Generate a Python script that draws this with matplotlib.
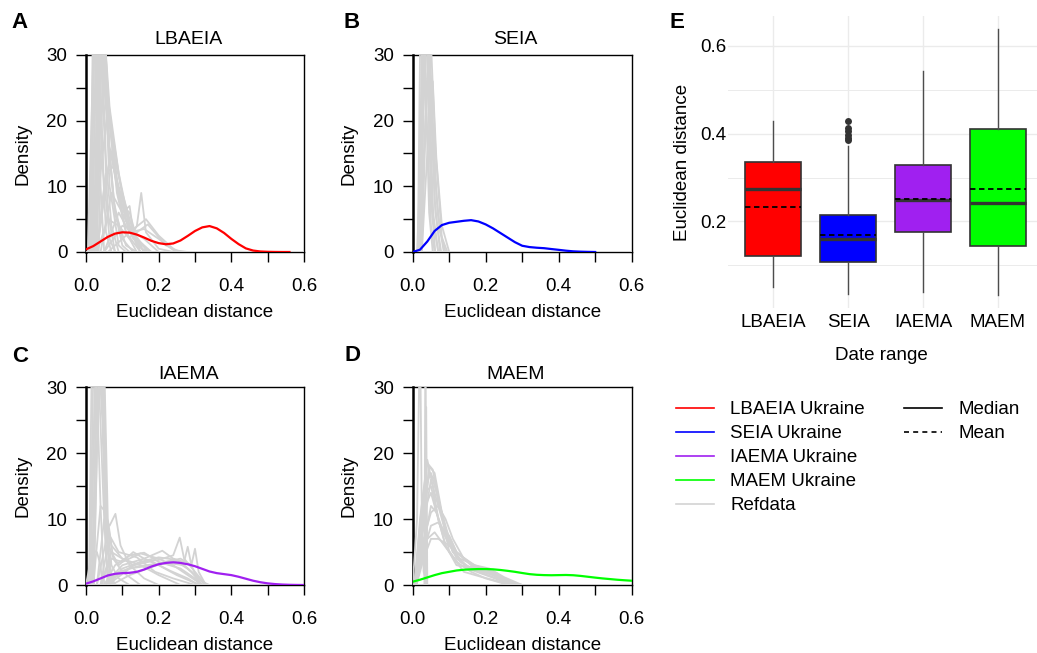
import numpy as np
import matplotlib.pyplot as plt
from matplotlib.lines import Line2D

plt.rcParams['font.family'] = ['Liberation Sans', 'DejaVu Sans']

## Data
x_grid = [0.00, 0.02, 0.04, 0.06, 0.08, 0.10, 0.12, 0.14, 0.16, 0.18, 0.20,
          0.22, 0.24, 0.26, 0.28, 0.30, 0.32, 0.34, 0.36, 0.38, 0.40, 0.42,
          0.44, 0.46, 0.48, 0.50, 0.52, 0.54, 0.56, 0.58, 0.60]

lbaeia_ukr = [0.40, 0.90, 1.60, 2.30, 2.80, 3.00, 2.95, 2.65, 2.20, 1.70, 1.35,
              1.18, 1.30, 1.75, 2.45, 3.20, 3.75, 3.95, 3.60, 2.90, 2.00, 1.20,
              0.55, 0.22, 0.08, 0.03, 0.01, 0.00, 0.00, np.nan, np.nan]
seia_ukr = [0.00, 0.35, 1.60, 3.20, 4.10, 4.45, 4.60, 4.75, 4.85, 4.65, 4.20,
            3.60, 2.90, 2.20, 1.50, 0.95, 0.75, 0.65, 0.58, 0.45, 0.33, 0.20,
            0.10, 0.05, 0.02, 0.00, np.nan, np.nan, np.nan, np.nan, np.nan]
iaema_ukr = [0.20, 0.55, 1.00, 1.45, 1.70, 1.80, 1.85, 2.00, 2.35, 2.80, 3.15,
             3.35, 3.45, 3.35, 3.15, 2.85, 2.45, 2.05, 1.80, 1.65, 1.50, 1.25,
             0.95, 0.65, 0.42, 0.25, 0.14, 0.07, 0.03, 0.01, 0.00]
maem_ukr = [0.50, 0.80, 1.15, 1.50, 1.80, 2.00, 2.20, 2.32, 2.38, 2.42, 2.42,
            2.38, 2.28, 2.15, 2.00, 1.82, 1.65, 1.55, 1.50, 1.48, 1.50, 1.52,
            1.48, 1.38, 1.25, 1.12, 1.00, 0.90, 0.80, 0.72, 0.65]

# reference density curves, (x, density) points per curve
ref_lbaeia = [
    [(0.0, 0), (0.005, 0), (0.015, 20), (0.025, 40), (0.04, 20), (0.055, 3), (0.07, 0), (0.6, 0)],
    [(0.01, 0), (0.02, 25), (0.03, 45), (0.045, 25), (0.06, 6), (0.08, 0)],
    [(0.015, 0), (0.025, 22), (0.035, 38), (0.05, 30), (0.065, 10), (0.09, 1), (0.11, 0)],
    [(0.02, 0), (0.03, 20), (0.04, 36), (0.055, 22), (0.075, 8), (0.1, 2), (0.13, 0)],
    [(0.025, 0), (0.035, 28), (0.045, 40), (0.06, 18), (0.08, 6), (0.11, 1), (0.14, 0)],
    [(0.03, 0), (0.04, 30), (0.05, 34), (0.065, 16), (0.085, 10), (0.11, 3), (0.15, 0)],
    [(0.012, 0), (0.018, 30), (0.022, 45), (0.03, 30), (0.04, 10), (0.05, 0)],
    [(0.015, 0), (0.022, 32), (0.028, 45), (0.036, 32), (0.048, 12), (0.065, 2), (0.08, 0)],
    [(0.018, 0), (0.026, 30), (0.033, 45), (0.042, 34), (0.055, 14), (0.07, 4), (0.09, 0)],
    [(0.022, 0), (0.032, 32), (0.038, 45), (0.048, 36), (0.06, 18), (0.08, 6), (0.1, 1), (0.12, 0)],
    [(0.026, 0), (0.036, 30), (0.042, 45), (0.052, 32), (0.065, 20), (0.085, 9), (0.11, 3), (0.14, 0)],
    [(0.03, 0), (0.04, 28), (0.046, 40), (0.055, 30), (0.065, 22), (0.09, 12), (0.12, 4), (0.15, 0)],
    [(0.035, 0), (0.045, 25), (0.05, 35), (0.06, 24), (0.08, 14), (0.1, 9), (0.13, 3), (0.17, 0)],
    [(0.03, 0), (0.05, 8), (0.065, 14), (0.077, 16.5), (0.09, 12), (0.11, 5), (0.14, 1), (0.17, 0)],
    [(0.03, 0), (0.05, 10), (0.07, 15), (0.085, 11), (0.1, 8), (0.12, 4), (0.16, 0)],
    [(0.03, 0), (0.055, 12), (0.075, 13), (0.1, 7), (0.12, 6), (0.14, 2), (0.18, 0)],
    [(0.03, 0), (0.06, 5), (0.09, 4), (0.12, 2), (0.14, 4), (0.152, 9), (0.165, 3), (0.2, 0.5), (0.24, 0)],
    [(0.04, 0), (0.07, 9), (0.1, 6), (0.12, 7), (0.13, 3), (0.16, 2), (0.2, 0)],
    [(0.05, 0), (0.09, 6), (0.12, 3), (0.165, 5), (0.2, 2.5), (0.25, 0)],
    [(0.05, 0), (0.1, 4), (0.14, 3), (0.17, 4.2), (0.22, 1), (0.26, 0)],
    [(0.06, 0), (0.12, 3), (0.16, 3.5), (0.2, 2), (0.24, 0.3), (0.28, 0)],
    [(0.02, 0), (0.04, 12), (0.06, 22), (0.08, 12), (0.1, 6), (0.13, 2), (0.18, 0)],
    [(0.02, 0), (0.04, 20), (0.055, 26), (0.07, 18), (0.09, 9), (0.12, 3), (0.16, 0)],
]
ref_seia = [
    [(0.0, 0), (0.012, 0), (0.022, 15), (0.03, 35), (0.04, 18), (0.05, 4), (0.06, 0), (0.6, 0)],
    [(0.015, 0), (0.025, 18), (0.035, 38), (0.045, 20), (0.055, 5), (0.07, 0)],
    [(0.018, 0), (0.03, 22), (0.04, 36), (0.05, 22), (0.06, 8), (0.075, 0)],
    [(0.02, 0), (0.032, 16), (0.045, 33), (0.055, 20), (0.068, 6), (0.085, 0)],
    [(0.025, 0), (0.04, 15), (0.055, 26), (0.065, 14), (0.08, 4), (0.1, 0)],
    [(0.02, 0), (0.035, 20), (0.045, 31), (0.06, 12), (0.075, 3), (0.095, 0)],
    [(0.025, 0), (0.038, 24), (0.05, 32), (0.062, 16), (0.08, 2), (0.09, 0)],
    [(0.014, 0), (0.02, 30), (0.026, 45), (0.034, 28), (0.045, 6), (0.055, 0)],
    [(0.016, 0), (0.024, 28), (0.03, 45), (0.04, 30), (0.05, 8), (0.062, 0)],
    [(0.02, 0), (0.028, 30), (0.036, 45), (0.045, 26), (0.056, 6), (0.07, 0)],
    [(0.022, 0), (0.032, 30), (0.04, 42), (0.05, 24), (0.062, 6), (0.078, 0)],
]
ref_iaema = [
    [(0.0, 0), (0.01, 3), (0.02, 20), (0.03, 40), (0.045, 25), (0.055, 5), (0.065, 0)],
    [(0.012, 0), (0.025, 30), (0.035, 42), (0.05, 20), (0.06, 5), (0.075, 0)],
    [(0.015, 0), (0.03, 28), (0.045, 36), (0.055, 12), (0.07, 3), (0.09, 1), (0.12, 0)],
    [(0.02, 0), (0.035, 30), (0.05, 34), (0.06, 10), (0.075, 4), (0.1, 2), (0.15, 0)],
    [(0.008, 0), (0.015, 30), (0.02, 45), (0.03, 30), (0.04, 12), (0.05, 0)],
    [(0.01, 0), (0.02, 32), (0.027, 45), (0.036, 30), (0.05, 10), (0.06, 0)],
    [(0.018, 0), (0.028, 30), (0.035, 45), (0.045, 30), (0.055, 10), (0.065, 2), (0.08, 0)],
    [(0.022, 0), (0.034, 30), (0.042, 45), (0.05, 30), (0.058, 8), (0.07, 0)],
    [(0.005, 0), (0.012, 4), (0.02, 5.2), (0.03, 5), (0.04, 3), (0.045, 0)],
    [(0.03, 0), (0.05, 10), (0.065, 9), (0.081, 10.8), (0.095, 6), (0.12, 3), (0.16, 1), (0.2, 0)],
    [(0.04, 0), (0.06, 6), (0.09, 3), (0.13, 5), (0.16, 4), (0.2, 3), (0.25, 1.5), (0.3, 0.3), (0.33, 0)],
    [(0.04, 0), (0.07, 4), (0.1, 3.5), (0.15, 4.8), (0.2, 4), (0.24, 3), (0.28, 1.5), (0.32, 0)],
    [(0.05, 0), (0.1, 2), (0.15, 3.5), (0.2, 3.8), (0.24, 4.5), (0.258, 7.2), (0.27, 4), (0.3, 2), (0.33, 0)],
    [(0.05, 0), (0.1, 3), (0.16, 4), (0.21, 5.2), (0.24, 4), (0.27, 3.5), (0.28, 5.8), (0.29, 3), (0.3, 5.5), (0.31, 2), (0.33, 0)],
    [(0.06, 0), (0.12, 2.5), (0.18, 3), (0.24, 3.8), (0.28, 2.5), (0.32, 0.5), (0.34, 0)],
    [(0.03, 0), (0.06, 8), (0.09, 5), (0.14, 4.2), (0.19, 2), (0.24, 1), (0.3, 0)],
    [(0.02, 0), (0.04, 12), (0.055, 11), (0.07, 6), (0.1, 4), (0.15, 3), (0.2, 1.5), (0.26, 0)],
    [(0.05, 0), (0.09, 2), (0.14, 2.8), (0.19, 3.2), (0.23, 3.3), (0.27, 3), (0.31, 1), (0.33, 0)],
    [(0.06, 0), (0.1, 2.5), (0.15, 3.5), (0.2, 4.2), (0.25, 3.8), (0.29, 2), (0.32, 0)],
    [(0.05, 0), (0.08, 3), (0.12, 4.5), (0.16, 4.9), (0.2, 3.5), (0.26, 2.5), (0.3, 1), (0.32, 0)],
    [(0.07, 0), (0.12, 1.5), (0.17, 2.5), (0.22, 3.5), (0.26, 4), (0.29, 3), (0.31, 0.5), (0.32, 0)],
    [(0.04, 0), (0.07, 5), (0.1, 4), (0.13, 3), (0.18, 3.6), (0.23, 2.2), (0.28, 1), (0.31, 0)],
]
ref_maem = [
    [(0.0, 0), (0.012, 10), (0.02, 40), (0.025, 10), (0.03, 2), (0.04, 0)],
    [(0.032, 0), (0.035, 40), (0.038, 0)],
    [(0.035, 0), (0.037, 27), (0.04, 0)],
    [(0.005, 0), (0.02, 10), (0.04, 19), (0.055, 15), (0.07, 10), (0.09, 6), (0.12, 3.5), (0.16, 2), (0.2, 1), (0.25, 0.2), (0.28, 0)],
    [(0.005, 0), (0.025, 8), (0.045, 17), (0.06, 16), (0.075, 12), (0.1, 7), (0.13, 3.5), (0.18, 2), (0.23, 1), (0.27, 0)],
    [(0.008, 0), (0.03, 9), (0.05, 16), (0.065, 13), (0.085, 9), (0.11, 5), (0.15, 2.5), (0.2, 1.5), (0.26, 0.3), (0.29, 0)],
    [(0.008, 0), (0.03, 6), (0.05, 12), (0.065, 11), (0.085, 8), (0.1, 7.5), (0.12, 5), (0.16, 3), (0.22, 1.5), (0.27, 0)],
    [(0.01, 0), (0.03, 5), (0.05, 9), (0.07, 9.5), (0.09, 8), (0.11, 5), (0.15, 2.8), (0.2, 2.5), (0.24, 1), (0.28, 0)],
    [(0.005, 0), (0.025, 6), (0.04, 7), (0.06, 8), (0.08, 6.5), (0.1, 5), (0.13, 3), (0.18, 2.2), (0.23, 1.8), (0.26, 0.5), (0.3, 0)],
    [(0.01, 0), (0.035, 12), (0.05, 14), (0.07, 10), (0.09, 6), (0.12, 3), (0.17, 2.5), (0.22, 1.5), (0.27, 0)],
    [(0.005, 0), (0.03, 10), (0.045, 18), (0.06, 17), (0.08, 11), (0.1, 5), (0.14, 2), (0.19, 1.2), (0.24, 0.5), (0.27, 0)],
    [(0.01, 0), (0.035, 14), (0.05, 15), (0.075, 9), (0.1, 6), (0.13, 4), (0.17, 3), (0.22, 2), (0.26, 0.6), (0.3, 0)],
    [(0.005, 0), (0.02, 8), (0.035, 15), (0.05, 17), (0.065, 14), (0.09, 8), (0.12, 4), (0.16, 2.5), (0.22, 1.8), (0.26, 0.8), (0.29, 0)],
    [(0.01, 0), (0.03, 7), (0.05, 11), (0.07, 12), (0.09, 10), (0.11, 7), (0.14, 4), (0.19, 2), (0.24, 1.2), (0.28, 0)],
    [(0.005, 0), (0.025, 12), (0.04, 18.5), (0.055, 17.5), (0.07, 13), (0.09, 8.5), (0.12, 5), (0.17, 2.8), (0.23, 1.5), (0.28, 0)],
    [(0.01, 0), (0.03, 4), (0.05, 7), (0.07, 7), (0.1, 6), (0.13, 4.5), (0.17, 3), (0.21, 2.5), (0.25, 1.2), (0.3, 0)],
]

# boxplot summary (panel E)
box_names = ['LBAEIA', 'SEIA', 'IAEMA', 'MAEM']
box_colors = ['#FF0000', '#0000FF', '#A020F0', '#00FF00']
box_q1 = [0.122, 0.107, 0.177, 0.145]
box_med = [0.275, 0.160, 0.249, 0.243]
box_q3 = [0.335, 0.215, 0.329, 0.411]
box_mean = [0.232, 0.169, 0.252, 0.275]
box_lo = [0.050, 0.035, 0.040, 0.033]
box_hi = [0.430, 0.373, 0.542, 0.638]
box_outliers = [[], [0.385, 0.391, 0.398, 0.405, 0.412, 0.430], [], []]

x_ticks = [0.0, 0.1, 0.2, 0.3, 0.4, 0.5, 0.6]
x_ticklabels = ['0.0', '', '0.2', '', '0.4', '', '0.6']
y_ticks = [0, 5, 10, 15, 20, 25, 30]
y_ticklabels = ['0', '', '10', '', '20', '', '30']

FS = 13.5
W, H = 1037, 653

## Plotting
fig = plt.figure(figsize=(W / 100, H / 100), dpi=100)


def px_axes(left, top, right, bottom):
    return fig.add_axes([left / W, 1 - bottom / H, (right - left) / W, (bottom - top) / H])


def density_panel(ax, refs, ys, color, title, tpad):
    for pts in refs:
        rx, ry = zip(*pts)
        ax.plot(rx, ry, color='#D3D3D3', lw=1.3, zorder=2)
    ax.plot(x_grid, ys, color=color, lw=1.6, zorder=3)
    ax.set_xlim(0, 0.6)
    ax.set_ylim(0, 30)
    ax.set_xticks(x_ticks)
    ax.set_xticklabels(x_ticklabels)
    ax.set_yticks(y_ticks)
    ax.set_yticklabels(y_ticklabels)
    ax.tick_params(axis='x', direction='out', length=7.5, width=1, labelsize=FS, pad=11.5)
    ax.tick_params(axis='y', direction='out', length=7.5, width=1, labelsize=FS, pad=6)
    for s in ax.spines.values():
        s.set_linewidth(1.0)
        s.set_zorder(1)
    ax.spines['left'].set_linewidth(1.8)
    ax.set_xlabel('Euclidean distance', fontsize=FS)
    ax.set_ylabel('Density', fontsize=FS)
    ax.xaxis.set_label_coords(0.5, -0.265)
    ax.yaxis.set_label_coords(-0.25, 0.5)
    ax.set_title(title, fontsize=14, x=0.47, pad=tpad)


axA = px_axes(86, 55, 304, 252)
axB = px_axes(412.7, 55, 631.7, 252)
axC = px_axes(86, 387.3, 304, 585)
axD = px_axes(412.7, 387.3, 631.7, 585)

density_panel(axA, ref_lbaeia, lbaeia_ukr, '#FF0000', 'LBAEIA', 8)
density_panel(axB, ref_seia, seia_ukr, '#0000FF', 'SEIA', 8)
density_panel(axC, ref_iaema, iaema_ukr, '#A020F0', 'IAEMA', 6)
density_panel(axD, ref_maem, maem_ukr, '#00FF00', 'MAEM', 6)

# panel E boxplot
axE = px_axes(728.3, 16, 1042.7, 308)
stats = []
for i in range(len(box_names)):
    stats.append(dict(label=box_names[i], q1=box_q1[i], med=box_med[i], q3=box_q3[i],
                      mean=box_mean[i], whislo=box_lo[i], whishi=box_hi[i],
                      fliers=box_outliers[i]))
bp = axE.bxp(stats, positions=[1, 2, 3, 4], widths=0.75, patch_artist=True,
             showmeans=True, meanline=True, showcaps=False,
             boxprops=dict(edgecolor='#333333', linewidth=1.2),
             medianprops=dict(color='#333333', linewidth=2.4),
             meanprops=dict(color='black', linestyle=(0, (3, 2)), linewidth=1.3),
             whiskerprops=dict(color='#4D4D4D', linewidth=1.0),
             flierprops=dict(marker='o', markerfacecolor='#333333',
                             markeredgecolor='none', markersize=5))
for patch, c in zip(bp['boxes'], box_colors):
    patch.set_facecolor(c)

axE.set_xlim(0.4, 4.6)
axE.set_ylim(0.003, 0.668)
axE.set_yticks([0.2, 0.4, 0.6])
axE.set_yticklabels(['0.2', '0.4', '0.6'])
axE.set_yticks([0.1, 0.3, 0.5], minor=True)
axE.set_axisbelow(True)
axE.yaxis.grid(True, which='major', color='#EBEBEB', lw=1.0)
axE.yaxis.grid(True, which='minor', color='#EBEBEB', lw=0.7)
axE.xaxis.grid(True, which='major', color='#EBEBEB', lw=1.0)
axE.tick_params(axis='both', which='both', length=0, labelsize=FS, colors='black')
axE.tick_params(axis='y', pad=1.5)
axE.tick_params(axis='x', pad=4)
for s in axE.spines.values():
    s.set_visible(False)
axE.set_xlabel('Date range', fontsize=FS)
axE.set_ylabel('Euclidean distance', fontsize=FS)
axE.xaxis.set_label_coords((881.7 - 728.3) / 314.4, -0.132)
axE.yaxis.set_label_coords(-0.119, 0.5)

# panel letters
for lab, px, py in [('A', 20, 22), ('B', 352, 22), ('C', 20, 357), ('D', 353, 356), ('E', 677, 23)]:
    fig.text(px / W, 1 - py / H, lab, fontsize=16, fontweight='bold', ha='center', va='center')

# legends
leg_names = ['LBAEIA Ukraine', 'SEIA Ukraine', 'IAEMA Ukraine', 'MAEM Ukraine', 'Refdata']
leg_colors = ['#FF0000', '#0000FF', '#A020F0', '#00FF00', '#D3D3D3']
h1 = [Line2D([], [], color=c, lw=1.2) for c in leg_colors]
fig.legend(h1, leg_names, loc='upper left', bbox_to_anchor=(676 / W, 1 - 401 / H),
           frameon=False, fontsize=FS, handlelength=2.0, handletextpad=0.9,
           labelspacing=0.37, borderpad=0, borderaxespad=0)
h2 = [Line2D([], [], color='black', lw=1.2),
      Line2D([], [], color='black', lw=1.2, linestyle=(0, (3, 2.5)))]
fig.legend(h2, ['Median', 'Mean'], loc='upper left', bbox_to_anchor=(904 / W, 1 - 401 / H),
           frameon=False, fontsize=FS, handlelength=2.0, handletextpad=0.9,
           labelspacing=0.37, borderpad=0, borderaxespad=0)

fig.savefig('out.png', dpi=100)
